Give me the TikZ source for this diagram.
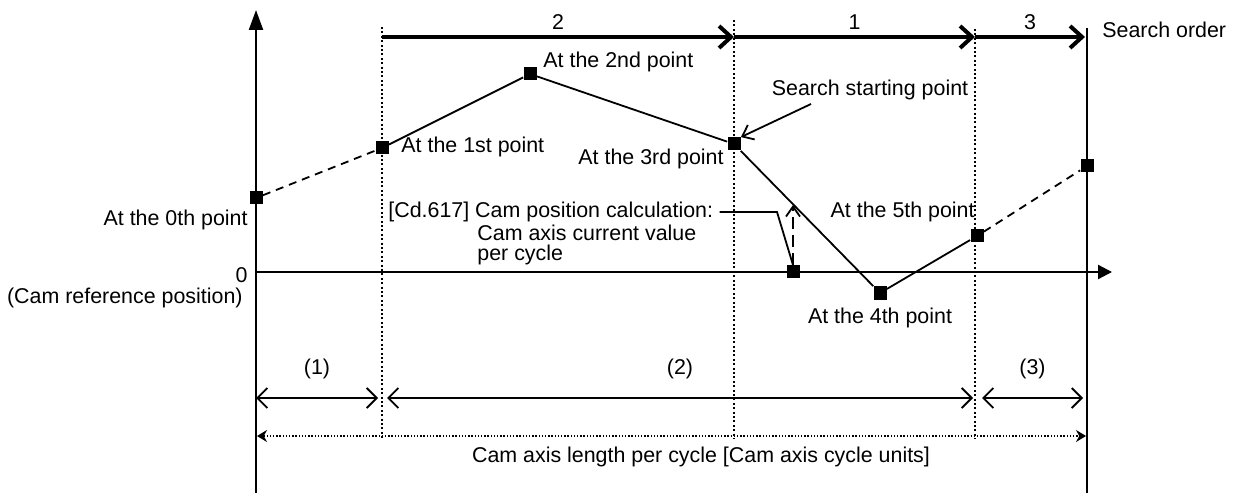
\documentclass[tikz,border=0pt]{standalone}
\usepackage{fontspec}
\setmainfont{Liberation Sans}
\usetikzlibrary{arrows.meta}
\begin{document}
\begin{tikzpicture}[x=0.5pt,y=-0.5pt,
  every node/.style={font=\fontsize{10.7}{10.75}\selectfont,inner sep=0pt},
  axis/.style={line width=1.1pt},
  guide/.style={line width=1pt,dash pattern=on 1pt off 1.2pt},
  order/.style={line width=2pt,-{Straight Barb[length=6pt,width=11pt]}},
  curve/.style={line width=0.9pt},
  sq/.style={fill=black,minimum size=6.5pt},
  dimarr/.style={line width=0.9pt,{Straight Barb[length=5pt,width=10pt]}-{Straight Barb[length=5pt,width=10pt]}},
  dimdot/.style={line width=0.7pt,dash pattern=on 0.7pt off 0.9pt,{Stealth[length=5pt,width=6pt]}-{Stealth[length=5pt,width=6pt]}}]
  \useasboundingbox (0,0) rectangle (1234,496);
  % axes
  \coordinate (yb) at (256,493); \coordinate (yt) at (256,10);
  \coordinate (xl) at (256,272); \coordinate (xr) at (1112,272);
  \coordinate (rb) at (1087,493); \coordinate (rt) at (1087,28);
  \draw[axis,-{Triangle[length=10pt,width=7pt]}] (yb) -- (yt);
  \draw[axis,-{Triangle[length=7pt,width=7pt]}] (xl) -- (xr);
  \draw[axis] (rb) -- (rt);
  \foreach \x/\t in {382/27,734/20,975/29} {
    \draw[guide] (\x,\t) -- (\x,439);
  }
  % search order
  \foreach \a/\b/\lab in {382/734/2,734/975/1,975/1085/3} {
    \coordinate (s\lab) at (\a,37); \coordinate (e\lab) at (\b,37);
    \draw[order] (s\lab) -- (e\lab);
    \node (n\lab) at ({(\a+\b)/2},22) {\lab};
  }
  \node[anchor=west] (sorder) at (1102,30) {Search order};
  % cam points
  \foreach \n/\x/\y in {0/256/198,1/382/148,2/530/74,3/734/144,4/880/293,5/977/236,6/1087/166,c/793/272} {
    \node[sq] (p\n) at (\x,\y) {};
  }
  \draw[curve,dash pattern=on 4pt off 3pt] (p0) -- (p1);
  \draw[curve] (p1) -- (p2) -- (p3) -- (p4) -- (p5);
  \draw[curve,dash pattern=on 4pt off 3pt] (p5) -- (p6);
  \node[anchor=east] (l0) at (248,220) {At the 0th point};
  \node[anchor=west] (l1) at (401,147) {At the 1st point};
  \node[anchor=west] (l2) at (543,62) {At the 2nd point};
  \node[anchor=east] (l3) at (724,159) {At the 3rd point};
  \node (l4) at (880,318) {At the 4th point};
  \node[anchor=east] (l5) at (975,212) {At the 5th point};
  \node[anchor=east] (zero) at (248,275) {0};
  \node[anchor=east] (camref) at (243,298) {(Cam reference position)};
  \node (start) at (870,90) {Search starting point};
  \coordinate (st) at (811,104);
  \draw[line width=0.9pt,-{Straight Barb[length=5pt,width=8pt]}] (st) -- (p3.north east);
  % Cd.617
  \node[anchor=west] (cd1) at (388,212) {[Cd.617] Cam position calculation:};
  \node[anchor=west] (cd2) at (477,233) {Cam axis current value};
  \node[anchor=west] (cd3) at (477,255) {per cycle};
  \coordinate (bend) at (777,212); \coordinate (cdtip) at (793,205);
  \draw[line width=0.9pt] ([xshift=3pt]cd1.east) -- (bend) -- (pc.north);
  \draw[line width=0.9pt,dash pattern=on 6pt off 3pt,-{Straight Barb[length=5pt,width=7pt]}] (pc.north) -- (cdtip);
  % ranges
  \foreach \a/\b/\lab in {256/378/1,387/973/2,982/1083/3} {
    \coordinate (ra\lab) at (\a,398); \coordinate (rz\lab) at (\b,398);
    \draw[dimarr] (ra\lab) -- (rz\lab);
    \node (r\lab) at ({(\a+\b)/2},369) {(\lab)};
  }
  \coordinate (da) at (257,436); \coordinate (dz) at (1086,436);
  \draw[dimdot] (da) -- (dz);
  \node (len) at (701,457) {Cam axis length per cycle [Cam axis cycle units]};
\end{tikzpicture}
\end{document}
